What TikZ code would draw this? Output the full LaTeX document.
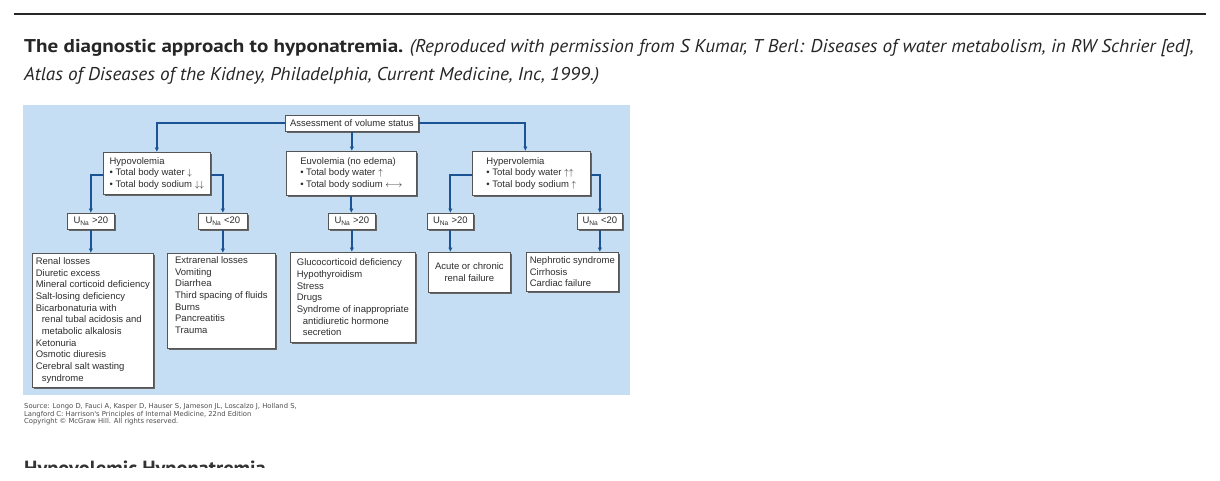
\documentclass[tikz,border=0pt]{standalone}
\usepackage{fontspec}
\setmainfont{Liberation Sans}
\newfontfamily\pagefont[ItalicFeatures={FakeStretch=1.036},BoldFeatures={FakeStretch=1.138}]{PT Sans}
\newfontfamily\headfont{PT Sans}
\newfontfamily\smallfont{DejaVu Sans}
\usetikzlibrary{arrows.meta,shadows}
\definecolor{panelblue}{RGB}{198,222,244}
\definecolor{flowblue}{RGB}{26,84,148}
\definecolor{boxgray}{RGB}{85,85,85}
\definecolor{inkgray}{RGB}{45,45,45}
\tikzset{
  chartbox/.style={draw=boxgray,line width=0.7pt,fill=white,text=inkgray,
    font=\fontsize{9.5}{11.7}\selectfont,inner sep=3pt,align=left,anchor=north west,
    drop shadow={shadow xshift=1.5pt,shadow yshift=-1.5pt,fill=black!60,opacity=1}},
  unabox/.style={chartbox,align=center,minimum height=16pt},
  flow/.style={draw=flowblue,line width=2pt,->},
}

\begin{document}
\begin{tikzpicture}[x=1pt,y=-1pt,>={Latex[length=4.5pt,width=4.5pt]}]
\useasboundingbox (0,0) rectangle (1220,480);
\fill[white] (0,0) rectangle (1220,480);
% page rule and caption
\draw[line width=1.2pt,black!85] (14,14) -- (1206,14);
\node[anchor=base west,inner sep=0pt,text=black!85,font=\pagefont\fontsize{18.5}{28}\selectfont] (capA) at (24,52)
  {\textbf{The diagnostic approach to hyponatremia.} \textit{(Reproduced with permission from S Kumar, T Berl: Diseases of water metabolism, in RW Schrier [ed],}};
\node[anchor=base west,inner sep=0pt,text=black!85,font=\pagefont\fontsize{18.5}{28}\selectfont] (capB) at (24,80)
  {\textit{Atlas of Diseases of the Kidney, Philadelphia, Current Medicine, Inc, 1999.)}};

% figure panel
\fill[panelblue] (23,105) rectangle (630,395);

\node[chartbox,minimum width=133pt,minimum height=16pt] (assess) at (285,115) {Assessment of volume status};

\node[chartbox,minimum width=107pt,minimum height=42pt] (hypo) at (103,152)
  {Hypovolemia\\\textbullet\ Total body water $\downarrow$\\\textbullet\ Total body sodium $\downarrow\downarrow$};
\node[chartbox,minimum width=130pt,minimum height=44pt] (euvo) at (286,151)
  {Euvolemia (no edema)\\\textbullet\ Total body water $\uparrow$\\\textbullet\ Total body sodium $\longleftrightarrow$};
\node[chartbox,minimum width=118pt,minimum height=44pt] (hyper) at (472,151)
  {Hypervolemia\\\textbullet\ Total body water $\uparrow\uparrow$\\\textbullet\ Total body sodium $\uparrow$};

\node[unabox,minimum width=47pt] (unaA) at (67,213) {U\textsubscript{Na} >20};
\node[unabox,minimum width=49pt] (unaB) at (198,213) {U\textsubscript{Na} <20};
\node[unabox,minimum width=47pt] (unaC) at (328,213) {U\textsubscript{Na} >20};
\node[unabox,minimum width=46pt] (unaD) at (427,213) {U\textsubscript{Na} >20};
\node[unabox,minimum width=45pt] (unaE) at (577,213) {U\textsubscript{Na} <20};

\node[chartbox,minimum width=121pt,minimum height=134pt] (renal) at (32,253)
  {Renal losses\\Diuretic excess\\Mineral corticoid deficiency\\Salt-losing deficiency\\Bicarbonaturia with\\
   \hspace*{6pt}renal tubal acidosis and\\\hspace*{6pt}metabolic alkalosis\\Ketonuria\\Osmotic diuresis\\
   Cerebral salt wasting\\\hspace*{6pt}syndrome};
\node[chartbox,minimum width=108pt,minimum height=95pt] (extra) at (167,253)
  {Extrarenal losses\\Vomiting\\Diarrhea\\Third spacing of fluids\\Burns\\Pancreatitis\\Trauma\\\mbox{}};
\node[chartbox,minimum width=125pt,minimum height=90pt] (gluco) at (290,252)
  {Glucocorticoid deficiency\\Hypothyroidism\\Stress\\Drugs\\Syndrome of inappropriate\\
   \hspace*{6pt}antidiuretic hormone\\\hspace*{6pt}secretion};
\node[chartbox,align=center,minimum width=82pt,minimum height=40pt] (failure) at (428,252)
  {Acute or chronic\\renal failure};
\node[chartbox,minimum width=92pt,minimum height=39pt] (nephro) at (526,252)
  {Nephrotic syndrome\\Cirrhosis\\Cardiac failure};

% connectors
\draw[flow] (assess.west) -| (hypo.north);
\draw[flow] (assess.east) -| ([xshift=-6pt]hyper.north);
\draw[flow] (assess.south) -- (assess.south |- euvo.north);
\draw[flow] ([yshift=-2pt]hypo.west) -| (unaA.north);
\draw[flow] ([yshift=-2pt]hypo.east) -| (unaB.north);
\draw[flow] (euvo.south) -- (euvo.south |- unaC.north);
\draw[flow] ([yshift=-2pt]hyper.west) -| (unaD.north);
\draw[flow] ([yshift=-2pt]hyper.east) -| (unaE.north);
\draw[flow] (unaA.south) -- (unaA.south |- renal.north);
\draw[flow] (unaB.south) -- (unaB.south |- extra.north);
\draw[flow] (unaC.south) -- (unaC.south |- gluco.north);
\draw[flow] (unaD.south) -- (unaD.south |- failure.north);
\draw[flow] (unaE.south) -- (unaE.south |- nephro.north);

% source line
\node[anchor=north west,inner sep=0pt,align=left,text=black!70,font=\smallfont\fontsize{6.8}{7.8}\selectfont] (source) at (24,403)
  {Source: Longo D, Fauci A, Kasper D, Hauser S, Jameson JL, Loscalzo J, Holland S,\\
   Langford C: Harrison's Principles of Internal Medicine, 22nd Edition\\
   Copyright \textcopyright\ McGraw Hill. All rights reserved.};

% next heading, cut off by the page edge
\begin{scope}
\clip (0,440) rectangle (1220,467);
\node[anchor=base west,inner sep=0pt,text=black!80,font=\headfont\bfseries\fontsize{20.5}{24}\selectfont] (nexthead) at (24,475)
  {Hypovolemic Hyponatremia};
\end{scope}
\end{tikzpicture}
\end{document}
